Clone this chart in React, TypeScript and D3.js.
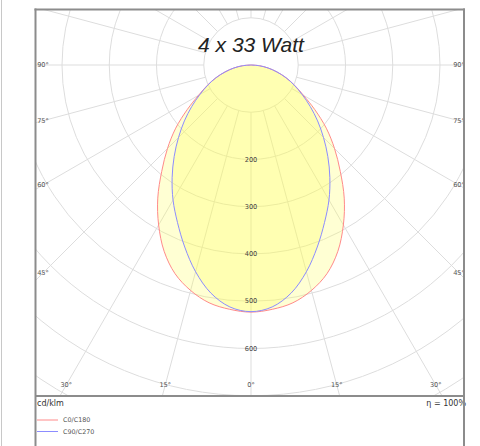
import * as d3 from "d3"

// polar intensity distribution, cd/klm, angle from nadir (0..90), mirrored
const angles = [0, 5, 10, 15, 20, 25, 30, 35, 40, 45, 50, 55, 60, 65, 70, 75, 80, 85, 90]
const c0c180 = [523, 519, 511, 494, 470, 435, 391, 344, 294, 250, 208, 165, 128, 102, 79, 57, 37, 18, 0]
const c90c270 = [522, 514, 490, 453, 410, 368, 330, 291, 253, 217, 184, 153, 125, 101, 79, 57, 37, 18, 0]
const rings = [100, 200, 300, 400, 500, 600, 700, 800, 900]
const ringLabels = [200, 300, 400, 500, 600]
const sideLabels = [90, 75, 60, 45]
const bottomLabels = [-30, -15, 0, 15, 30]
const title = "4 x 33 Watt"
const unit = "cd/klm"
const eta = "η = 100%"
const legend = [
  { name: "C0/C180", color: "#ff8a8a" },
  { name: "C90/C270", color: "#8c8cff" },
]

const W = 480, H = 446
const cx = 251, cy = 65
const box = { left: 35.5, right: 464, top: 9.5, sep: 396 }
const font = "'DejaVu Sans', Verdana, sans-serif"

export default function App() {
  const r = d3.scaleLinear().domain([0, 100]).range([0, 47.25])
  const deg = (a: number) => (a * Math.PI) / 180

  // full curve from +90 through nadir to -90
  const pts = (vals: number[]) => {
    const left = angles.map((a, i) => [a, vals[i]] as [number, number]).reverse()
    const right = angles.slice(1).map((a, i) => [-a, vals[i + 1]] as [number, number])
    return [...left, ...right]
  }
  const line = d3.lineRadial<[number, number]>()
    .angle(d => Math.PI + deg(d[0]))
    .radius(d => r(d[1]))
    .curve(d3.curveCatmullRom)
  const curves = [
    { d: line(pts(c0c180))! + "Z", color: legend[0].color },
    { d: line(pts(c90c270))! + "Z", color: legend[1].color },
  ]

  const spokes = d3.range(0, 360, 15)
  const px = (a: number, rr: number) => cx + rr * Math.sin(deg(a))
  const py = (a: number, rr: number) => cy + rr * Math.cos(deg(a))
  const inset = 208

  return (
    <div style={{ position: "absolute", left: 0, top: 0 }}>
      <svg width={W} height={H} style={{ display: "block", background: "#fff" }}>
        <defs>
          <clipPath id="plot">
            <rect x={box.left} y={box.top} width={box.right - box.left} height={box.sep - box.top} />
          </clipPath>
        </defs>
        <line x1={1.5} x2={1.5} y1={0} y2={H} stroke="#c8c8c8" strokeWidth={1} />

        <g clipPath="url(#plot)">
          {rings.map(v => (
            <circle key={v} cx={cx} cy={cy} r={r(v)} fill="none" stroke="#dddddd" strokeWidth={1} />
          ))}
          {spokes.map(a => (
            <line key={a} x1={px(a, r(100))} y1={py(a, r(100))} x2={px(a, r(1000))} y2={py(a, r(1000))}
              stroke="#dddddd" strokeWidth={1} />
          ))}
          <g transform={`translate(${cx},${cy})`}>
            {curves.map((c, i) => (
              <path key={"f" + i} d={c.d} fill="#ffff55" fillOpacity={0.26} stroke="none" />
            ))}
            {curves.map((c, i) => (
              <path key={"s" + i} d={c.d} fill="none" stroke={c.color} strokeWidth={1} />
            ))}
          </g>
          {ringLabels.map(v => (
            <text key={v} x={cx} y={cy + r(v)} textAnchor="middle" dominantBaseline="central"
              fontFamily={font} fontSize={6.6} fill="#444">{v}</text>
          ))}
          {sideLabels.map(a => {
            const yy = a === 90 ? cy : cy + inset / Math.tan(deg(a))
            return [
              <text key={"l" + a} x={cx - inset} y={yy} textAnchor="middle" dominantBaseline="central"
                fontFamily={font} fontSize={6.6} fill="#555">{a}°</text>,
              <text key={"r" + a} x={cx + inset} y={yy} textAnchor="middle" dominantBaseline="central"
                fontFamily={font} fontSize={6.6} fill="#555">{a}°</text>,
            ]
          })}
          {bottomLabels.map(a => (
            <text key={a} x={cx + 320 * Math.tan(deg(a))} y={cy + 320} textAnchor="middle" dominantBaseline="central"
              fontFamily={font} fontSize={6.6} fill="#555">{Math.abs(a)}°</text>
          ))}
          <text x={cx} y={52} textAnchor="middle" fontFamily="'Liberation Sans', Arial, sans-serif"
            fontStyle="italic" fontSize={21} fill="#222">{title}</text>
        </g>

        <text x={37} y={403} dominantBaseline="central" fontFamily={font} fontSize={8} fill="#333">{unit}</text>
        <text x={466} y={403} textAnchor="end" dominantBaseline="central" fontFamily={font} fontSize={8} fill="#333">{eta}</text>
        {legend.map((l, i) => (
          <g key={l.name} transform={`translate(37,${420 + i * 11.5})`}>
            <line x1={0} x2={21} y1={0} y2={0} stroke={l.color} strokeWidth={1} />
            <text x={26} y={0} dominantBaseline="central" fontFamily={font} fontSize={6.4} fill="#555">{l.name}</text>
          </g>
        ))}

        <g stroke="#8c8c8c" strokeWidth={2} fill="none">
          <line x1={box.left} x2={box.left} y1={box.top - 1} y2={H} />
          <line x1={box.right} x2={box.right} y1={box.top - 1} y2={H} />
          <line x1={box.left - 1} x2={box.right + 1} y1={box.top} y2={box.top} />
          <line x1={box.left} x2={box.right} y1={box.sep} y2={box.sep} />
        </g>
      </svg>
    </div>
  )
}
